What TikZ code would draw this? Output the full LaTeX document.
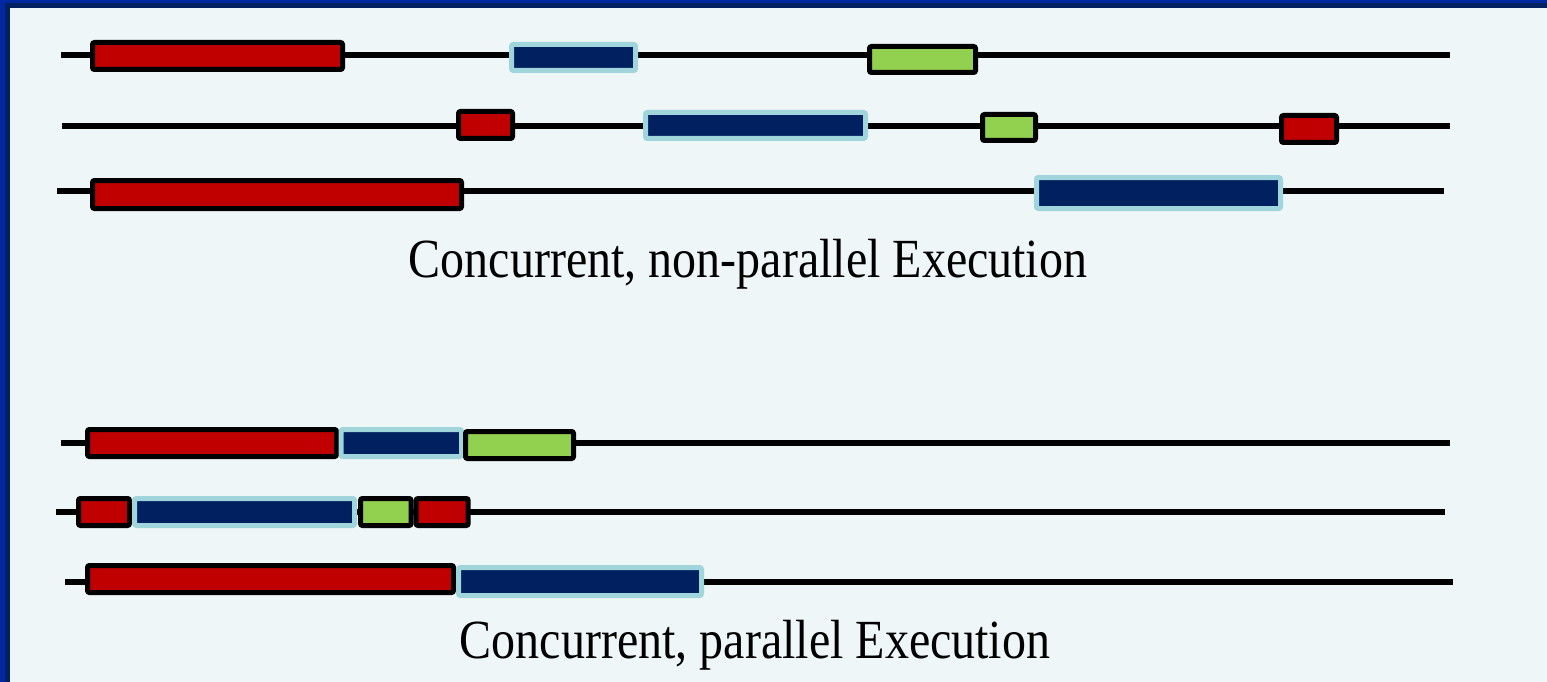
\documentclass[tikz,border=0pt]{standalone}
\usepackage{fontspec}
\setmainfont{Liberation Serif}
\usepackage{tikz}

\definecolor{slidebg}{HTML}{EEF6F7}
\definecolor{frameouter}{HTML}{0028A0}
\definecolor{frameinner}{HTML}{002060}
\definecolor{taskred}{HTML}{C00000}
\definecolor{taskblue}{HTML}{002060}
\definecolor{tasklight}{HTML}{A0D5DB}
\definecolor{taskgreen}{HTML}{92D050}

\tikzset{
  task/.style={rectangle, rounded corners=2pt, line width=5pt, inner sep=0pt,
               minimum height=27pt, anchor=west},
  redtask/.style={task, draw=black, fill=taskred},
  bluetask/.style={task, draw=tasklight, fill=taskblue},
  greentask/.style={task, draw=black, fill=taskgreen},
  timeline/.style={line width=6pt, color=black},
  caption/.style={font=\fontsize{48}{56}\selectfont, inner sep=0pt, yscale=1.15, transform shape}
}

\begin{document}
\begin{tikzpicture}[x=1pt,y=-1pt]
    \useasboundingbox (0,0) rectangle (1547,682);
    \fill[slidebg] (0,0) rectangle (1547,682);
    \fill[frameinner] (0,0) rectangle (10,682);
    \fill[frameinner] (0,0) rectangle (1547,8);
    \fill[frameouter] (0,0) rectangle (5,682);
    \fill[frameouter] (0,0) rectangle (1547,3.5);

    % non-parallel
    \coordinate (l1s) at (61,55.5);   \coordinate (l1e) at (1450,55.5);
    \coordinate (l2s) at (62,126);    \coordinate (l2e) at (1450,126);
    \coordinate (l3s) at (57,190.5);  \coordinate (l3e) at (1444,190.5);
    \draw[timeline] (l1s) -- (l1e);
    \draw[timeline] (l2s) -- (l2e);
    \draw[timeline] (l3s) -- (l3e);

    \node[redtask, minimum width=250pt] (r1) at (90,56) {};
    \node[bluetask, minimum width=124pt, minimum height=26pt] (b1) at (509,57.5) {};
    \node[greentask, minimum width=106pt, minimum height=26pt] (g1) at (867,59.5) {};

    \node[redtask, minimum width=54pt] (r2a) at (456,125) {};
    \node[bluetask, minimum width=220pt, minimum height=26pt] (b2) at (643,125.5) {};
    \node[greentask, minimum width=53pt, minimum height=26pt] (g2) at (980,127.5) {};
    \node[redtask, minimum width=55pt] (r2b) at (1279,129) {};

    \node[redtask, minimum width=369pt, minimum height=28pt] (r3) at (90,194.5) {};
    \node[bluetask, minimum width=244pt, minimum height=31pt] (b3) at (1034,193) {};

    \node[caption] (cap1) at (748,264) {Concurrent, non-parallel Execution};

    % parallel
    \coordinate (l4s) at (61,443);    \coordinate (l4e) at (1450,443);
    \coordinate (l5s) at (56,511.5);  \coordinate (l5e) at (1445,511.5);
    \coordinate (l6s) at (65,582);    \coordinate (l6e) at (1453,582);
    \draw[timeline] (l4s) -- (l4e);
    \draw[timeline] (l5s) -- (l5e);
    \draw[timeline] (l6s) -- (l6e);

    \node[redtask, minimum width=249pt] (r4) at (85,443) {};
    \node[bluetask, minimum width=120.5pt] (b4) at (338.6,443) {};
    \node[greentask, minimum width=108pt] (g4) at (463,445) {};

    \node[redtask, minimum width=51pt] (r5a) at (76,512) {};
    \node[bluetask, minimum width=220pt] (b5) at (132,512) {};
    \node[greentask, minimum width=50.6pt] (g5) at (358,512) {};
    \node[redtask, minimum width=52.1pt] (r5b) at (413.6,512) {};

    \node[redtask, minimum width=366pt] (r6) at (85,579) {};
    \node[bluetask, minimum width=243pt, minimum height=28pt] (b6) at (456,581.5) {};

    \node[caption] (cap2) at (755,645) {Concurrent, parallel Execution};
\end{tikzpicture}
\end{document}
